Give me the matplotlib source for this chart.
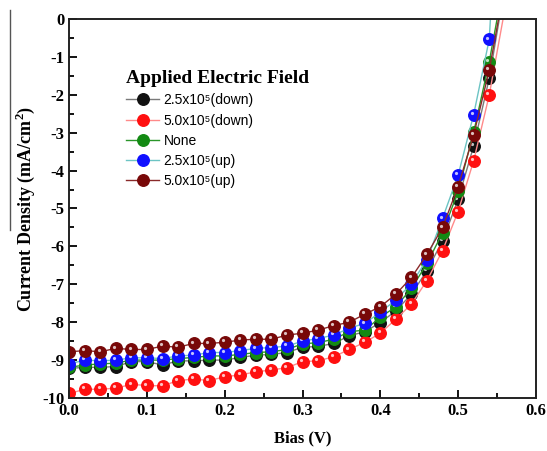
import numpy as np
import matplotlib
matplotlib.use("Agg")
import matplotlib.pyplot as plt
from matplotlib.transforms import offset_copy
from matplotlib.lines import Line2D

# Messpunkte (Bias in V), letzter Punkt liegt oberhalb der Achse
bias = [0.00, 0.02, 0.04, 0.06, 0.08, 0.10, 0.12, 0.14, 0.16, 0.18, 0.20,
        0.22, 0.24, 0.26, 0.28, 0.30, 0.32, 0.34, 0.36, 0.38, 0.40, 0.42,
        0.44, 0.46, 0.48, 0.50, 0.52, 0.54, 0.56]

j_down25 = [-9.22, -9.19, -9.19, -9.17, -9.04, -9.04, -9.13, -9.02, -9.02, -9.00, -9.00,
            -8.93, -8.87, -8.85, -8.80, -8.66, -8.64, -8.56, -8.36, -8.25, -8.01, -7.70,
            -7.26, -6.64, -5.85, -4.76, -3.35, -1.57, 0.85]
j_down50 = [-9.88, -9.77, -9.77, -9.74, -9.64, -9.67, -9.68, -9.54, -9.50, -9.54, -9.44,
            -9.39, -9.31, -9.26, -9.20, -9.04, -9.02, -8.91, -8.72, -8.53, -8.29, -7.92,
            -7.52, -6.90, -6.11, -5.08, -3.74, -2.01, 0.25]
j_none = [-9.19, -9.13, -9.10, -9.08, -9.00, -9.00, -9.00, -8.96, -8.93, -8.89, -8.89,
          -8.85, -8.80, -8.78, -8.72, -8.57, -8.54, -8.45, -8.25, -8.21, -7.87, -7.59,
          -7.11, -6.45, -5.64, -4.55, -2.99, -1.13, 1.10]
j_up25 = [-9.10, -9.00, -9.02, -9.00, -8.94, -8.94, -8.96, -8.89, -8.87, -8.80, -8.80,
          -8.75, -8.69, -8.67, -8.63, -8.50, -8.43, -8.34, -8.16, -8.03, -7.74, -7.41,
          -6.98, -6.35, -5.26, -4.12, -2.52, -0.54, 6.5]
j_up50 = [-8.78, -8.75, -8.78, -8.69, -8.72, -8.72, -8.63, -8.66, -8.56, -8.56, -8.53,
          -8.47, -8.45, -8.45, -8.34, -8.29, -8.21, -8.09, -8.00, -7.79, -7.59, -7.26,
          -6.82, -6.21, -5.50, -4.42, -3.06, -1.35, 0.90]

labels = ["2.5x10\u2075(down)", "5.0x10\u2075(down)", "None", "2.5x10\u2075(up)", "5.0x10\u2075(up)"]
serien = [j_down25, j_down50, j_none, j_up25, j_up50]
punkt_farben = ["#111111", "#ff1010", "#138a13", "#1010ff", "#780808"]
linien_farben = ["#7a7a7a", "#ff8a8a", "#2a962a", "#6cc4c4", "#8a2a2a"]

plt.rcParams["mathtext.fontset"] = "custom"
plt.rcParams["mathtext.rm"] = "Liberation Serif"
plt.rcParams["mathtext.bf"] = "Liberation Serif:bold"

fig = plt.figure(figsize=(5.47, 4.51), dpi=100)
ax = fig.add_axes([0.1265, 0.1175, 0.8532, 0.8404])

glanz = offset_copy(ax.transData, fig=fig, x=-1.3, y=1.3, units="points")
for y, lab, pc, lc in zip(serien, labels, punkt_farben, linien_farben):
    ax.plot(bias, y, "-o", color=lc, lw=1.0, ms=8.3, mfc=pc, mec=pc, label=lab)
    ax.plot(bias, y, "o", color="white", ms=2.3, mec="none", alpha=0.75, transform=glanz)

ax.set_xlim(0, 0.6)
ax.set_ylim(-10, 0)
ax.set_xticks(np.arange(0, 0.61, 0.1))
ax.set_xticks(np.arange(0.05, 0.6, 0.1), minor=True)
ax.set_yticks(np.arange(-10, 0.1, 1))
ax.set_yticks(np.arange(-9.5, 0, 1), minor=True)
ax.set_xticklabels(["0.0", "0.1", "0.2", "0.3", "0.4", "0.5", "0.6"])
ax.set_yticklabels([str(v) for v in range(-10, 1)])
ax.tick_params(which="both", direction="in", top=False, right=False, width=1.3)
ax.tick_params(which="major", length=6, labelsize=12)
ax.tick_params(which="minor", length=3.5)
for t in ax.get_xticklabels() + ax.get_yticklabels():
    t.set_fontfamily("Liberation Serif")
    t.set_fontweight("bold")
for s in ax.spines.values():
    s.set_linewidth(1.4)
    s.set_color("#222222")

ax.set_xlabel("Bias (V)", fontfamily="Liberation Serif", fontweight="bold", fontsize=12, labelpad=8)
ax.set_ylabel("Current Density (mA/cm$^{\\mathbf{2}}$)", fontfamily="Liberation Serif",
              fontweight="bold", fontsize=13, labelpad=4)

leg = ax.legend(loc="upper left", bbox_to_anchor=(0.11, 0.88), frameon=False,
                prop={"family": ["Liberation Sans", "DejaVu Sans"], "size": 10}, handlelength=2.4,
                handletextpad=0.3, labelspacing=0.45, borderaxespad=0)
leg.set_title("Applied Electric Field", prop={"family": "Liberation Serif", "weight": "bold", "size": 14})
leg._legend_box.align = "left"

# senkrechte Linie am linken Rand (wie im Original)
fig.add_artist(Line2D([0.018, 0.018], [0.49, 0.978], transform=fig.transFigure, color="#555555", lw=1.0))

fig.savefig("out.png", dpi=100)
